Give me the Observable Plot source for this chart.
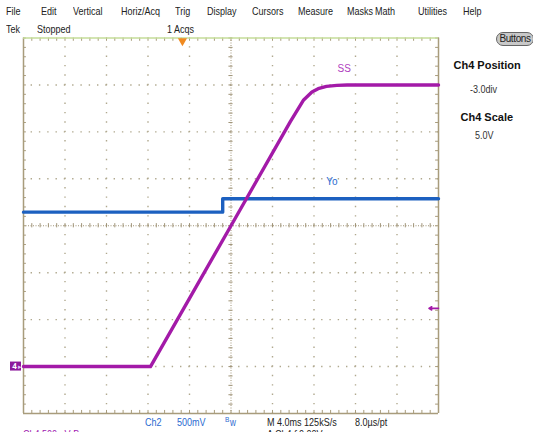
<!DOCTYPE html>
<html><head><meta charset="utf-8">
<script src="https://cdn.jsdelivr.net/npm/d3@7"></script>
<script src="https://cdn.jsdelivr.net/npm/@observablehq/plot@0.6"></script>
<style>
body{margin:0;background:#fff;}
#wrap{position:relative;width:533px;height:432px;overflow:hidden;background:#fff;font-family:"Liberation Sans",Arial,sans-serif;font-size:11px;color:#222;}
#wrap svg{position:absolute;left:0;top:0;}
.t{position:absolute;white-space:nowrap;line-height:1;transform:scaleX(0.82);transform-origin:0 0;}
.b{font-weight:bold;font-size:11px;color:#111;transform:none;}
</style></head><body><div id="wrap"></div>
<script>
// ---- data (screen divisions: x = time at 4 ms/div, y = div from centre) ----
const ssTime  = [-5, -1.94, 0, 1.43, 1.75, 1.95, 2.10, 2.30, 2.55, 2.80, 5];
const ssLevel = [-3, -3,    0, 2.22, 2.68, 2.85, 2.92, 2.97, 2.99, 3.00, 3.00];
const yoTime  = [-5, -0.2, -0.2, 5];
const yoLevel = [0.29, 0.29, 0.575, 0.575];
const traceNames = ["SS", "Yo"];
const labelTime  = [2.73, 2.43];
const labelLevel = [3.35, 0.94];
const trigPos = -1.17;      // trigger time marker (div)
const trigLevel = -1.76;    // trigger level marker (div)
const ch4Ground = -3;       // Ch4 position (div)
const xDivs = [-4, -3, -2, -1, 1, 2, 3, 4];
const yDivs = [-3, -2, -1, 1, 2, 3];
const minorX = d3.range(-5, 5.001, 0.2);
const minorY = d3.range(-4, 4.001, 0.2);

const menuLabels = ["File","Edit","Vertical","Horiz/Acq","Trig","Display","Cursors","Measure","Masks","Math","Utilities","Help"];
const menuX = [6,41,73,121,175,207,252,298,347,375,418,463];

const ss = ssTime.map((t, i) => ({t, v: ssLevel[i]}));
const yo = yoTime.map((t, i) => ({t, v: yoLevel[i]}));
const labels = traceNames.map((n, i) => ({n, t: labelTime[i], v: labelLevel[i]}));

const grid = "#b0a88e", frame = "#a89c7c", center = "#a09478";
const magenta = "#a31aa8", blue = "#1c60c0";

const plot = Plot.plot({
  width: 533, height: 432,
  marginLeft: 23, marginRight: 95, marginTop: 37.5, marginBottom: 19,
  x: {domain: [-5, 5], axis: null},
  y: {domain: [-4, 4], axis: null},
  style: {background: "transparent", overflow: "visible"},
  marks: [
    Plot.gridX(xDivs, {stroke: grid, strokeOpacity: 1, strokeWidth: 1.4, strokeDasharray: "1.4,7.9875", strokeDashoffset: 0.7}),
    Plot.gridY(yDivs, {stroke: grid, strokeOpacity: 1, strokeWidth: 1.4, strokeDasharray: "1.4,6.9", strokeDashoffset: 0.7}),
    Plot.ruleX([0], {stroke: center, strokeWidth: 1, strokeDasharray: "1,1.5"}),
    Plot.ruleY([0], {stroke: center, strokeWidth: 1, strokeDasharray: "1,1.5"}),
    Plot.ruleY(minorY, {y: d => d, x1: -0.05, x2: 0.05, stroke: center}),
    Plot.ruleX(minorX, {x: d => d, y1: -0.045, y2: 0.045, stroke: center}),
    Plot.ruleX(minorX, {x: d => d, y1: -4, y2: -3.935, stroke: frame}),
    Plot.ruleX(minorX, {x: d => d, y1: 4, y2: 3.93, stroke: frame}),
    Plot.ruleY(minorY, {y: d => d, x1: -5, x2: -4.93, stroke: frame}),
    Plot.ruleY(minorY, {y: d => d, x1: 5, x2: 4.93, stroke: frame}),
    Plot.ruleX([-5, 5], {stroke: frame, strokeWidth: 1.5}),
    Plot.ruleY([-4], {stroke: frame, strokeWidth: 1.5}),
    Plot.ruleY([4], {stroke: "#c4dc98", strokeWidth: 1.5}),
    Plot.line(yo, {x: "t", y: "v", stroke: blue, strokeWidth: 3.4, curve: "linear"}),
    Plot.line(ss, {x: "t", y: "v", stroke: magenta, strokeWidth: 3.4, curve: "linear"}),
    Plot.text(labels, {x: "t", y: "v", text: "n", fill: (d) => d.n === "SS" ? "#b040c0" : "#2a6ad0", fontSize: 10, fontFamily: "Liberation Sans, sans-serif"}),
    Plot.dot([trigPos], {x: d => d, y: () => 4, symbol: "triangle", rotate: 180, r: 3.4, dy: 3, fill: "#f08a20", stroke: "none"}),
    Plot.arrow([trigLevel], {x1: () => 5, x2: () => 4.77, y1: d => d, y2: d => d, stroke: magenta, strokeWidth: 1.6, headLength: 5, insetEnd: 0, insetStart: 0}),
    Plot.rect([ch4Ground], {x1: () => -5, x2: () => -5, y1: d => d, y2: d => d, insetLeft: -13, insetRight: 2, insetTop: -4.5, insetBottom: -4.5, fill: "#8c1a9c"}),
    Plot.text([ch4Ground], {x: () => -5, y: d => d, text: () => "4", dx: -9, fill: "#fff", fontSize: 8, fontWeight: "bold"}),
    Plot.text([ch4Ground], {x: () => -5, y: d => d, text: () => "▸", dx: -4, fill: "#e0c0ff", fontSize: 7})
  ]
});
const wrap = document.getElementById("wrap");
wrap.appendChild(plot);

function addText(txt, x, y, cls, style) {
  const s = document.createElement("span");
  s.className = "t " + (cls || "");
  s.textContent = txt;
  s.style.left = x + "px"; s.style.top = y + "px";
  if (style) Object.assign(s.style, style);
  wrap.appendChild(s);
  return s;
}
menuLabels.forEach((m, i) => addText(m, menuX[i], 6));
addText("Tek", 6, 24);
addText("Stopped", 37, 24);
addText("1 Acqs", 167, 24);

// right panel
addText("Buttons", 496, 32, "", {width: "38px", height: "14px", lineHeight: "12px", textAlign: "center", background: "#c8c8c8", border: "1px solid #666", borderRadius: "7px", fontSize: "10px", boxSizing: "border-box", transform: "none", fontFamily: "Liberation Sans Narrow, Liberation Sans, sans-serif", letterSpacing: "-0.4px"});
function centred(txt, cx, y, cls, style, sc) { const s = addText(txt, 0, y, cls, style); s.style.left = (cx - s.offsetWidth * sc / 2) + "px"; }
centred("Ch4 Position", 487, 60, "b", null, 1);
centred("-3.0div", 484, 84, "", {color: "#333"}, 0.82);
centred("Ch4 Scale", 487, 112, "b", null, 1);
centred("5.0V", 484, 130, "", {color: "#333"}, 0.82);

// bottom status
addText("Ch2", 145, 417, "", {color: "#2a6ad0"});
addText("500mV", 177, 417, "", {color: "#2a6ad0"});
addText("B", 225, 416, "", {color: "#2a6ad0", fontSize: "8px"});
addText("w", 230, 418, "", {color: "#2a6ad0", fontSize: "10px"});
addText("M 4.0ms  125kS/s", 267, 417);
addText("8.0µs/pt", 355, 417);
addText("Ch4    500mV    Bw", 23, 429, "", {color: "#a020b0"});
addText("A  Ch4  ∫  0.00V", 267, 429);
</script></body></html>
